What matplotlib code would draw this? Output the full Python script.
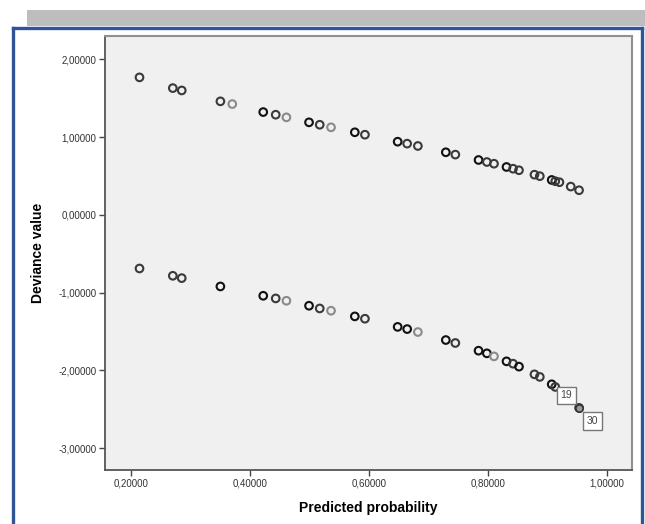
import matplotlib
matplotlib.use("Agg")
import matplotlib.pyplot as plt
from matplotlib.lines import Line2D
from matplotlib.patches import Rectangle
from matplotlib.ticker import FuncFormatter

# observed = 1 cases (positive deviance)
prob_pos = [0.214, 0.270, 0.285, 0.350, 0.370, 0.422, 0.443, 0.461, 0.499, 0.517,
            0.536, 0.576, 0.593, 0.648, 0.664, 0.682, 0.729, 0.745, 0.784, 0.798,
            0.810, 0.831, 0.842, 0.852, 0.878, 0.887, 0.907, 0.913, 0.920, 0.939, 0.953]
dev_pos = [1.768, 1.630, 1.600, 1.460, 1.425, 1.322, 1.288, 1.254, 1.190, 1.159,
           1.126, 1.062, 1.031, 0.941, 0.916, 0.886, 0.805, 0.775, 0.706, 0.680,
           0.658, 0.616, 0.594, 0.574, 0.517, 0.498, 0.449, 0.433, 0.420, 0.364, 0.317]
n_pos = [2, 2, 2, 2, 1, 3, 2, 1, 3, 2,
         1, 3, 2, 3, 2, 2, 3, 2, 3, 2,
         2, 3, 2, 2, 2, 2, 3, 2, 2, 2, 2]

# observed = 0 cases (negative deviance)
prob_neg = [0.214, 0.270, 0.285, 0.350, 0.422, 0.443, 0.461, 0.499, 0.517, 0.536,
            0.576, 0.593, 0.648, 0.664, 0.682, 0.729, 0.745, 0.784, 0.798, 0.810,
            0.831, 0.842, 0.852, 0.878, 0.887, 0.907, 0.913, 0.953]
dev_neg = [-0.689, -0.783, -0.813, -0.920, -1.040, -1.074, -1.104, -1.168, -1.203, -1.232,
           -1.305, -1.335, -1.440, -1.468, -1.506, -1.609, -1.647, -1.746, -1.780, -1.819,
           -1.883, -1.913, -1.951, -2.050, -2.083, -2.178, -2.212, -2.481]
n_neg = [2, 2, 2, 3, 3, 2, 1, 3, 2, 1,
         3, 2, 3, 3, 1, 3, 2, 3, 3, 1,
         3, 2, 3, 2, 2, 3, 2, 2]

# labelled cases: (case id, x, y)
case_ids = ["19", "30"]
case_x = [0.913, 0.953]
case_y = [-2.212, -2.481]

x_ticks = [0.2, 0.4, 0.6, 0.8, 1.0]
y_ticks = [-3, -2, -1, 0, 1, 2]

plt.rcParams['font.family'] = ['Liberation Sans', 'DejaVu Sans']

fig = plt.figure(figsize=(6.45, 5.24), dpi=100)
W, H = 645, 524

# window decoration: gray bar and blue frame
fig.patches.append(Rectangle((27 / W, 1 - 26 / H), 1 - 27 / W, 16 / H,
                             transform=fig.transFigure, facecolor='#bdbdbd',
                             edgecolor='none', zorder=0))
frame_kw = dict(transform=fig.transFigure, color='#2f5597', linewidth=2.4)
fig.lines.append(Line2D([13 / W, 13 / W], [0, 1 - 28 / H], **frame_kw))
fig.lines.append(Line2D([13 / W, 641.5 / W], [1 - 28 / H, 1 - 28 / H], **frame_kw))
fig.lines.append(Line2D([641.5 / W, 641.5 / W], [0, 1 - 28 / H], **frame_kw))

ax = fig.add_axes([105 / W, 1 - 470 / H, (632 - 105) / W, (470 - 36) / H])
ax.set_facecolor('#f0f0f0')


def shade(counts):
    return ['#8a8a8a' if c == 1 else ('#3a3a3a' if c == 2 else '#111111') for c in counts]


ax.scatter(prob_pos, dev_pos, s=30, facecolors='none', edgecolors=shade(n_pos),
           linewidths=1.5, zorder=3)
ax.scatter(prob_neg, dev_neg, s=30, facecolors='none', edgecolors=shade(n_neg),
           linewidths=1.5, zorder=3)
# case 30 is drawn filled
ax.scatter([case_x[1]], [case_y[1]], s=28, facecolors='#9a9a9a', edgecolors='#333333',
           linewidths=1.2, zorder=4)

offsets = [(8, -6), (9.5, -9.5)]
for cid, cx, cy, off in zip(case_ids, case_x, case_y, offsets):
    ax.annotate(cid, (cx, cy), xytext=off, textcoords='offset points',
                ha='center', va='center', fontsize=7.5, color='#444444',
                bbox=dict(boxstyle='square,pad=0.35', facecolor='white',
                          edgecolor='#777777', linewidth=1.0), zorder=5)

ax.set_xlim(0.156, 1.042)
ax.set_ylim(-3.28, 2.30)
ax.set_xticks(x_ticks)
ax.set_yticks(y_ticks)
fmt = FuncFormatter(lambda v, pos: f"{v:.5f}".replace('.', ','))
ax.xaxis.set_major_formatter(fmt)
ax.yaxis.set_major_formatter(fmt)
ax.tick_params(direction='out', length=4, width=1.0, color='#444444',
               labelsize=7, labelcolor='#333333', pad=2)

for side in ['left', 'bottom']:
    ax.spines[side].set_color('#555555')
    ax.spines[side].set_linewidth(1.3)
for side in ['top', 'right']:
    ax.spines[side].set_color('#909090')
    ax.spines[side].set_linewidth(1.5)

ax.set_xlabel("Predicted probability", fontsize=10, fontweight='bold', labelpad=9)
ax.set_ylabel("Deviance value", fontsize=10, fontweight='bold', labelpad=10)

plt.savefig("out.png", dpi=100)
